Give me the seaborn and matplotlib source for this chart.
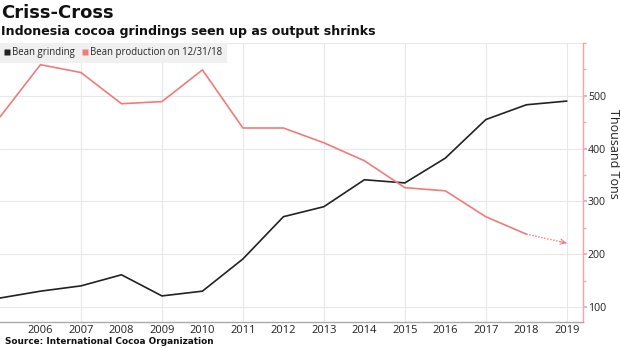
import matplotlib
matplotlib.use("Agg")
import matplotlib.pyplot as plt
import seaborn as sns
import pandas as pd
from matplotlib.lines import Line2D
from matplotlib.ticker import MultipleLocator

years = [2005, 2006, 2007, 2008, 2009, 2010, 2011, 2012, 2013, 2014, 2015, 2016, 2017, 2018, 2019]
grinding = [117, 130, 140, 161, 121, 130, 191, 271, 290, 341, 335, 382, 455, 483, 490]
production = [460, 559, 544, 485, 489, 549, 439, 439, 411, 377, 326, 320, 271, 238, 221]
xtick_labels = [str(y) for y in range(2006, 2020)]
ytick_values = [100, 200, 300, 400, 500]

title = "Criss-Cross"
subtitle = "Indonesia cocoa grindings seen up as output shrinks"
source = "Source: International Cocoa Organization"
ylabel = "Thousand Tons"
label_grind = "Bean grinding"
label_prod = "Bean production on 12/31/18"

BLACK = "#222222"
RED = "#f07b7b"
PINK = "#f5a3ac"

sns.set_theme(style="white")
plt.rcParams['font.family'] = ['DejaVu Sans']

fig = plt.figure(figsize=(6.2, 3.48), dpi=100)
ax = fig.add_axes([0.0, 1 - 322 / 348, 583 / 620, (322 - 43) / 348])

df_g = pd.DataFrame({"year": years, "value": grinding})
df_p = pd.DataFrame({"year": years[:-1], "value": production[:-1]})
df_f = pd.DataFrame({"year": years[-2:], "value": production[-2:]})

sns.lineplot(data=df_g, x="year", y="value", ax=ax, color=BLACK, lw=1.2)
sns.lineplot(data=df_p, x="year", y="value", ax=ax, color=RED, lw=1.2)
sns.lineplot(data=df_f, x="year", y="value", ax=ax, color=RED, lw=1.0, linestyle=(0, (1, 1.2)))
ax.annotate("", xy=(years[-1], production[-1]),
            xytext=(years[-1] - 0.15, production[-1] + (production[-2] - production[-1]) * 0.15),
            arrowprops=dict(arrowstyle="->", color=RED, lw=0.9, linestyle=(0, (1, 1)),
                            mutation_scale=9, shrinkA=0, shrinkB=0))

ax.set_xlim(2005, 2019.4)
ax.set_ylim(71.6, 600)
ax.set_xticks(range(2006, 2020))
ax.set_xticklabels(xtick_labels, fontsize=8, color="#222222", family="Open Sans")

ax.yaxis.tick_right()
ax.set_yticks(ytick_values)
ax.set_yticklabels([str(v) for v in ytick_values], fontsize=7.6, color="#222222", family="Open Sans")
ax.yaxis.set_minor_locator(MultipleLocator(50))
ax.set_ylabel("")
ax.set_xlabel("")
fig.text(613 / 620, 1 - 154 / 348, ylabel, rotation=270, ha="center", va="center",
         fontsize=9, color="#222222", family="Open Sans")

ax.grid(False)
for v in [100, 200, 300, 400, 500, 600]:
    ax.axhline(v, color="#e8e8e8", lw=0.8, zorder=0)
for y in range(2007, 2020, 2):
    ax.axvline(y, color="#e8e8e8", lw=0.8, zorder=0)

for s in ["left", "top"]:
    ax.spines[s].set_visible(False)
ax.spines["right"].set_color(PINK)
ax.spines["right"].set_linewidth(1.0)
ax.spines["bottom"].set_color("#aaaaaa")
ax.spines["bottom"].set_linewidth(1.0)

ax.tick_params(axis="y", which="major", right=True, length=3, color=PINK, pad=0.5)
ax.tick_params(axis="y", which="minor", right=True, length=2, color=PINK)
ax.tick_params(axis="x", which="both", bottom=False, pad=-4)

handles = [Line2D([0], [0], marker="s", color="none", markerfacecolor=BLACK, markeredgecolor="none", markersize=5),
           Line2D([0], [0], marker="s", color="none", markerfacecolor=RED, markeredgecolor="none", markersize=5)]
leg = ax.legend(handles, [label_grind, label_prod], loc="upper left", ncol=2, frameon=True,
                fancybox=False, borderaxespad=0, handlelength=0.5, handletextpad=0.25,
                columnspacing=0.9, borderpad=0.45, prop={"size": 6.9, "family": "Open Sans"})
leg.get_frame().set_facecolor("#f0f0f0")
leg.get_frame().set_edgecolor("none")
leg.get_frame().set_alpha(1)

fig.text(0.002, 1 - 13 / 348, title, fontsize=13, fontweight="bold", va="center", ha="left", color="#111111")
fig.text(0.002, 1 - 31 / 348, subtitle, fontsize=9.1, fontweight="bold", va="center", ha="left", color="#111111")
fig.text(0.008, 1 - 342 / 348, source, fontsize=6.4, fontweight="bold", va="center", ha="left", color="#111111")

fig.savefig("out.png", dpi=100)
